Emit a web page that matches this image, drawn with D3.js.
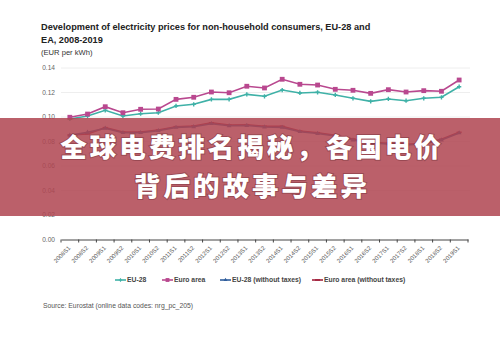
<!DOCTYPE html>
<html>
<head>
<meta charset="utf-8">
<script src="https://cdn.jsdelivr.net/npm/d3@7"></script>
<style>
  html, body { margin: 0; padding: 0; background: #fff; }
  svg { display: block; }
</style>
</head>
<body>
<div id="chart"></div>
<script>
// data (EUR per kWh)
var categories = ["2008S1","2008S2","2009S1","2009S2","2010S1","2010S2","2011S1","2011S2",
  "2012S1","2012S2","2013S1","2013S2","2014S1","2014S2","2015S1","2015S2","2016S1","2016S2",
  "2017S1","2017S2","2018S1","2018S2","2019S1"];
var eu28 = [0.0984,0.1008,0.1055,0.1008,0.1027,0.1035,0.1090,0.1104,0.1144,0.1144,0.1185,0.1169,
  0.1220,0.1196,0.1202,0.1180,0.1153,0.1128,0.1147,0.1133,0.1153,0.1161,0.1247];
var euroArea = [0.0998,0.1024,0.1084,0.1035,0.1063,0.1065,0.1144,0.1161,0.1204,0.1198,0.1251,0.1237,
  0.1308,0.1267,0.1261,0.1226,0.1218,0.1193,0.1223,0.1204,0.1215,0.1210,0.1302];
var eu28NoTax = [0.0850,0.0875,0.0908,0.0872,0.0872,0.0888,0.0915,0.0920,0.0945,0.0928,0.0930,0.0918,
  0.0915,0.0880,0.0865,0.0845,0.0812,0.0788,0.0780,0.0772,0.0780,0.0812,0.0870];
var euroAreaNoTax = [0.0853,0.0862,0.0913,0.0878,0.0878,0.0894,0.0921,0.0927,0.0953,0.0935,0.0937,0.0924,
  0.0924,0.0886,0.0872,0.0851,0.0820,0.0793,0.0785,0.0777,0.0785,0.0818,0.0875];
var yTicks = [0, 0.02, 0.04, 0.06, 0.08, 0.10, 0.12, 0.14];
var seriesNames = ["EU-28", "Euro area", "EU-28 (without taxes)", "Euro area (without taxes)"];

var width = 500, height = 337;
var font = "'Liberation Sans', Arial, sans-serif";

var svg = d3.select("#chart").append("svg")
    .attr("width", width)
    .attr("height", height);

svg.append("rect").attr("width", width).attr("height", height).attr("fill", "#fff");

// titles
svg.append("text").attr("x", 41).attr("y", 30)
  .style("font-family", font).style("font-size", "9.2px").style("font-weight", "bold").attr("fill", "#222")
  .text("Development of electricity prices for non-household consumers, EU-28 and");
svg.append("text").attr("x", 41).attr("y", 42.5)
  .style("font-family", font).style("font-size", "9.2px").style("font-weight", "bold").attr("fill", "#222")
  .text("EA, 2008-2019");
svg.append("text").attr("x", 41).attr("y", 54.5)
  .style("font-family", font).style("font-size", "7.6px").attr("fill", "#333")
  .text("(EUR per kWh)");

var x = d3.scaleBand().domain(categories).range([61, 468]).paddingInner(0).paddingOuter(0);
var y = d3.scaleLinear().domain([0, 0.14]).range([239.5, 68]);
var cx = function(d, i) { return x(categories[i]) + x.bandwidth() / 2; };

// grid
svg.append("g").selectAll("line").data(yTicks.filter(function(d) { return d > 0; }))
  .enter().append("line")
    .attr("x1", 61).attr("x2", 470)
    .attr("y1", function(d) { return y(d); }).attr("y2", function(d) { return y(d); })
    .attr("stroke", "#eeeeee").attr("stroke-width", 1);

// y labels
svg.append("g").selectAll("text").data(yTicks).enter().append("text")
  .attr("x", 55).attr("y", function(d) { return y(d) + 2.3; })
  .attr("text-anchor", "end")
  .style("font-family", font).style("font-size", "6.6px").attr("fill", "#666")
  .text(function(d) { return d3.format(".2f")(d); });

// x axis, ticks between categories
var xAxis = d3.axisBottom(x).tickSize(0).tickFormat("");
var gx = svg.append("g").attr("transform", "translate(0," + y(0) + ")").call(xAxis);
gx.select(".domain").attr("stroke", "#444").attr("stroke-width", 1);
gx.selectAll("line.bound").data(categories.concat(["end"])).enter().append("line")
  .attr("class", "bound")
  .attr("x1", function(d, i) { return 61 + i * x.step(); })
  .attr("x2", function(d, i) { return 61 + i * x.step(); })
  .attr("y1", 0).attr("y2", 3).attr("stroke", "#444");
gx.selectAll("text.lbl").data(categories).enter().append("text")
  .attr("class", "lbl")
  .attr("transform", function(d, i) { return "translate(" + (cx(d, i) + 1) + ",9) rotate(-45)"; })
  .attr("text-anchor", "end")
  .style("font-family", font).style("font-size", "6px").attr("fill", "#555")
  .text(function(d) { return d; });

// lines
var series = [
  {name: seriesNames[3], values: euroAreaNoTax, color: "#a3213d", marker: "dash"},
  {name: seriesNames[2], values: eu28NoTax, color: "#2f5d9c", marker: "tri"},
  {name: seriesNames[0], values: eu28, color: "#3fb1a7", marker: "plus"},
  {name: seriesNames[1], values: euroArea, color: "#b9488f", marker: "square"}
];
var line = d3.line().x(function(d, i) { return cx(d, i); }).y(function(d) { return y(d); });

function drawMarker(g, type, color, size) {
  if (type === "square") {
    g.append("rect").attr("x", -2.4 * size).attr("y", -2.4 * size).attr("width", 4.8 * size).attr("height", 4.8 * size).attr("fill", color);
  } else if (type === "plus") {
    g.append("path").attr("d", d3.symbol(d3.symbolCross, 10 * size * size)()).attr("fill", color);
  } else if (type === "tri") {
    g.append("path").attr("d", d3.symbol(d3.symbolTriangle, 10 * size * size)()).attr("fill", color);
  } else {
    g.append("line").attr("x1", -2.5).attr("x2", 2.5).attr("stroke", color).attr("stroke-width", 1.6);
  }
}

series.forEach(function(s) {
  svg.append("path").datum(s.values).attr("d", line)
    .attr("fill", "none").attr("stroke", s.color).attr("stroke-width", 1.6);
  s.values.forEach(function(v, i) {
    var g = svg.append("g").attr("transform", "translate(" + cx(v, i) + "," + y(v) + ")");
    drawMarker(g, s.marker, s.color, 1);
  });
});

// legend
var legend = [
  {name: seriesNames[0], color: "#3fb1a7", marker: "plus", x: 115},
  {name: seriesNames[1], color: "#b9488f", marker: "square", x: 162},
  {name: seriesNames[2], color: "#2f5d9c", marker: "tri", x: 220},
  {name: seriesNames[3], color: "#a3213d", marker: "dash", x: 312}
];
legend.forEach(function(l) {
  var g = svg.append("g").attr("transform", "translate(" + l.x + ",280)");
  g.append("line").attr("x1", 0).attr("x2", 11).attr("stroke", l.color).attr("stroke-width", 1.6);
  var m = g.append("g").attr("transform", "translate(5.5,0)");
  drawMarker(m, l.marker, l.color, 0.8);
  g.append("text").attr("x", 12).attr("y", 2.4)
    .style("font-family", font).style("font-size", "6.8px").style("font-weight", "bold").attr("fill", "#444")
    .text(l.name);
});

svg.append("text").attr("x", 43).attr("y", 307.5)
  .style("font-family", font).style("font-size", "6.8px").attr("fill", "#555")
  .text("Source: Eurostat (online data codes: nrg_pc_205)");

// overlay banner with headline
svg.append("rect").attr("x", 0).attr("y", 118).attr("width", width).attr("height", 98)
  .attr("fill", "rgb(176,70,82)").attr("fill-opacity", 0.86);
var heads = ["全球电费排名揭秘，各国电价", "背后的故事与差异"];
svg.append("g").selectAll("text").data(heads).enter().append("text")
  .attr("x", 252).attr("y", function(d, i) { return 157 + i * 39; })
  .attr("text-anchor", "middle")
  .style("font-family", "'Noto Sans CJK SC', sans-serif").style("font-size", "26.5px").style("font-weight", "900")
  .style("letter-spacing", "3px")
  .style("paint-order", "stroke").attr("stroke", "rgba(90,30,40,0.35)").attr("stroke-width", 2)
  .attr("fill", "#fff")
  .text(function(d) { return d; });
</script>
</body>
</html>
